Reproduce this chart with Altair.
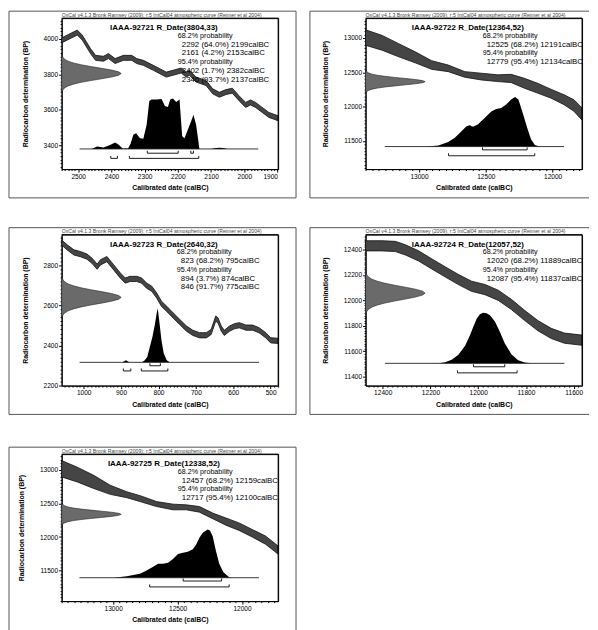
import altair as alt
import pandas as pd

W, H = 218, 152
FONT = "Liberation Sans"
HEADER = "OxCal v4.1.3 Bronk Ramsey (2009); r:5 IntCal04 atmospheric curve (Reimer et al 2004)"
XTITLE = "Calibrated date (calBC)"
YTITLE = "Radiocarbon determination (BP)"

# measured radiocarbon date profile: offsets (in sigma) and relative density
rc_z = [-3.3, -3.0, -2.7, -2.4, -2.1, -1.8, -1.5, -1.2, -0.9, -0.6, -0.3, 0.0,
        0.3, 0.6, 0.9, 1.2, 1.5, 1.8, 2.1, 2.4, 2.7, 3.0, 3.3]
rc_dens = [0.004, 0.011, 0.026, 0.056, 0.110, 0.198, 0.325, 0.487, 0.667, 0.835, 0.956, 1.0,
           0.956, 0.835, 0.667, 0.487, 0.325, 0.198, 0.110, 0.056, 0.026, 0.011, 0.004]

# ---------------- panel 1 ----------------
p1_title = "IAAA-92721 R_Date(3804,33)"
p1_rdate = [3804, 33]
p1_lines = ["68.2% probability", "2292 (64.0%) 2199calBC", "2161 (4.2%) 2153calBC",
            "95.4% probability", "2402 (1.7%) 2382calBC", "2346 (93.7%) 2137calBC"]
p1_xdom = [1898, 2550]
p1_ydom = [3268, 4115]
p1_xmajor, p1_xminor = 100, 10
p1_ymajor, p1_yminor = 200, 20
p1_curve_date = [2550, 2503, 2488, 2463, 2448, 2424, 2409, 2389, 2364, 2339, 2324, 2304, 2274, 2254,
                 2235, 2215, 2190, 2175, 2165, 2145, 2115, 2095, 2075, 2055, 2036, 2016, 1996, 1981,
                 1966, 1946, 1926, 1898]
p1_curve_bp = [3990, 4034, 4006, 3930, 3892, 3887, 3902, 3874, 3892, 3892, 3874, 3864, 3836, 3817,
               3798, 3808, 3821, 3798, 3808, 3770, 3751, 3704, 3685, 3700, 3708, 3666, 3628, 3642,
               3628, 3600, 3572, 3553]
p1_curve_err = [14, 14, 14, 14, 14, 14, 14, 14, 14, 14, 14, 14, 14, 14, 14, 14, 14, 14, 14, 14,
                14, 14, 14, 14, 14, 14, 14, 14, 14, 14, 14, 14]
p1_dist_date = [2460, 2443, 2424, 2404, 2389, 2379, 2366, 2350, 2342, 2334, 2326, 2314, 2304, 2294,
                2286, 2279, 2264, 2249, 2239, 2230, 2223, 2215, 2205, 2195, 2187, 2180, 2170, 2160,
                2153, 2145, 2135, 2100, 2085, 2075, 2065, 2050]
p1_dist_p = [0.0, 0.05, 0.03, 0.08, 0.13, 0.09, 0.01, 0.01, 0.11, 0.28, 0.31, 0.21, 0.20, 0.48,
             0.95, 0.98, 0.98, 0.99, 0.85, 0.83, 0.98, 1.0, 0.93, 0.98, 0.25, 0.21, 0.38, 0.55,
             0.68, 0.48, 0.0, 0.0, 0.02, 0.025, 0.02, 0.0]
p1_span = [2496, 1958]
p1_r68 = [[2292, 2199], [2161, 2153]]
p1_r95 = [[2402, 2382], [2346, 2137]]

# ---------------- panel 2 ----------------
p2_title = "IAAA-92722 R_Date(12364,52)"
p2_rdate = [12364, 52]
p2_lines = ["68.2% probability", "12525 (68.2%) 12191calBC",
            "95.4% probability", "12779 (95.4%) 12134calBC"]
p2_xdom = [11780, 13400]
p2_ydom = [11090, 13290]
p2_xmajor, p2_xminor = 500, 50
p2_ymajor, p2_yminor = 500, 50
p2_curve_date = [13400, 13276, 13152, 13029, 12905, 12781, 12657, 12534, 12410, 12311, 12212,
                 12113, 12014, 11915, 11841, 11780]
p2_curve_bp = [13007, 12930, 12822, 12719, 12606, 12558, 12469, 12438, 12414, 12411, 12341,
               12269, 12190, 12101, 12017, 11892]
p2_curve_err = [113, 108, 96, 80, 63, 48, 41, 49, 49, 60, 72, 72, 65, 72, 84, 89]
p2_dist_date = [12942, 12855, 12781, 12732, 12682, 12645, 12620, 12596, 12558, 12509, 12459,
                12422, 12385, 12348, 12311, 12281, 12256, 12224, 12187, 12162, 12133, 12100]
p2_dist_p = [0.0, 0.02, 0.09, 0.18, 0.31, 0.41, 0.43, 0.40, 0.45, 0.58, 0.71, 0.76, 0.78, 0.85,
             0.95, 1.0, 0.95, 0.68, 0.35, 0.15, 0.03, 0.0]
p2_span = [13256, 11915]
p2_r68 = [[12525, 12191]]
p2_r95 = [[12779, 12134]]

# ---------------- panel 3 ----------------
p3_title = "IAAA-92723 R_Date(2640,32)"
p3_rdate = [2640, 32]
p3_lines = ["68.2% probability", "823 (68.2%) 795calBC", "95.4% probability",
            "894 (3.7%) 874calBC", "846 (91.7%) 775calBC"]
p3_xdom = [480, 1059]
p3_ydom = [2200, 2953]
p3_xmajor, p3_xminor = 100, 10
p3_ymajor, p3_yminor = 200, 20
p3_curve_date = [1059, 1044, 1026, 1009, 991, 978, 964, 955, 938, 920, 902, 889, 876, 858, 845,
                 832, 818, 805, 792, 778, 761, 743, 725, 708, 690, 672, 659, 647, 641, 632, 624,
                 610, 597, 584, 566, 548, 531, 513, 500, 480]
p3_curve_bp = [2914, 2889, 2864, 2856, 2843, 2823, 2793, 2815, 2831, 2790, 2749, 2724, 2732, 2732,
               2724, 2699, 2683, 2650, 2608, 2583, 2550, 2517, 2484, 2463, 2451, 2451, 2468, 2534,
               2526, 2484, 2463, 2484, 2496, 2501, 2489, 2489, 2476, 2451, 2426, 2423]
p3_curve_err = [13, 13, 13, 13, 13, 13, 13, 13, 13, 13, 13, 13, 13, 13, 13, 13, 13, 13, 13, 13,
                13, 13, 13, 13, 13, 13, 13, 13, 13, 13, 13, 13, 13, 13, 13, 13, 13, 13, 13, 13]
p3_dist_date = [896, 887, 878, 845, 838, 830, 823, 816, 810, 805, 802, 798, 792, 786, 778, 770]
p3_dist_p = [0.0, 0.04, 0.0, 0.0, 0.03, 0.10, 0.29, 0.48, 0.69, 0.91, 1.0, 0.78, 0.41, 0.17,
             0.04, 0.0]
p3_span = [1011, 531]
p3_r68 = [[823, 795]]
p3_r95 = [[894, 874], [846, 775]]

# ---------------- panel 4 ----------------
p4_title = "IAAA-92724 R_Date(12057,52)"
p4_rdate = [12057, 52]
p4_lines = ["68.2% probability", "12020 (68.2%) 11889calBC",
            "95.4% probability", "12087 (95.4%) 11837calBC"]
p4_xdom = [11565, 12472]
p4_ydom = [11330, 12517]
p4_xmajor, p4_xminor = 200, 20
p4_ymajor, p4_yminor = 200, 20
p4_curve_date = [12472, 12403, 12347, 12305, 12250, 12194, 12139, 12083, 12028, 11972, 11916,
                 11861, 11805, 11750, 11694, 11639, 11565]
p4_curve_bp = [12429, 12429, 12424, 12397, 12350, 12286, 12225, 12164, 12111, 12085, 12040,
               11968, 11881, 11801, 11740, 11703, 11687]
p4_curve_err = [40, 40, 40, 40, 40, 40, 40, 40, 40, 40, 40, 40, 40, 40, 40, 40, 40]
p4_dist_date = [12166, 12139, 12111, 12083, 12055, 12035, 12021, 12007, 11993, 11979, 11965,
                11951, 11930, 11909, 11889, 11861, 11833, 11805, 11778]
p4_dist_p = [0.0, 0.02, 0.07, 0.17, 0.35, 0.55, 0.72, 0.88, 0.97, 1.0, 0.99, 0.95, 0.83, 0.62,
             0.40, 0.18, 0.06, 0.015, 0.0]
p4_span = [12391, 11639]
p4_r68 = [[12020, 11889]]
p4_r95 = [[12087, 11837]]

# ---------------- panel 5 ----------------
p5_title = "IAAA-92725 R_Date(12338,52)"
p5_rdate = [12338, 52]
p5_lines = ["68.2% probability", "12457 (68.2%) 12159calBC",
            "95.4% probability", "12717 (95.4%) 12100calBC"]
p5_xdom = [11720, 13400]
p5_ydom = [11046, 13234]
p5_xmajor, p5_xminor = 500, 50
p5_ymajor, p5_yminor = 500, 50
p5_curve_date = [13400, 13279, 13151, 13023, 12895, 12792, 12664, 12536, 12433, 12331, 12228,
                 12126, 12023, 11921, 11818, 11721]
p5_curve_bp = [13016, 12930, 12820, 12703, 12630, 12572, 12491, 12447, 12442, 12412, 12315,
               12230, 12154, 12056, 11954, 11807]
p5_curve_err = [122, 110, 98, 68, 44, 44, 37, 42, 37, 42, 42, 54, 56, 56, 61, 61]
p5_dist_date = [12997, 12895, 12792, 12741, 12690, 12651, 12613, 12574, 12536, 12497, 12459,
                12421, 12382, 12356, 12331, 12305, 12267, 12249, 12228, 12203, 12177, 12146,
                12100, 12074]
p5_dist_p = [0.0, 0.03, 0.08, 0.15, 0.23, 0.29, 0.29, 0.31, 0.39, 0.49, 0.52, 0.54, 0.59, 0.69,
             0.83, 0.93, 1.0, 0.98, 0.86, 0.56, 0.29, 0.12, 0.01, 0.0]
p5_span = [13262, 11869]
p5_r68 = [[12457, 12159]]
p5_r95 = [[12717, 12100]]

# ---------------- layout / style constants ----------------
GAUSS_PX = 60.0  # width of the measured-date profile in px
LAYOUT = {
    # baseline bp, peak bp, 68% bracket level, 95% bracket level, text x positions, plot height
    1: dict(base=3381, peak=3664, l68=3357, l95=3328, tx=117, rx=121, h=152),
    2: dict(base=11418, peak=12139, l68=11370, l95=11284, tx=118, rx=122, h=152),
    3: dict(base=2316, peak=2584, l68=2299, l95=2273, tx=116, rx=120, h=152),
    4: dict(base=11505, peak=11902, l68=11478, l95=11430, tx=118, rx=122, h=152),
    5: dict(base=11394, peak=12112, l68=11345, l95=11257, tx=117, rx=121, h=148),
}
ONE = alt.Data(values=[{"k": 0}])


def text_layer(s, x, y, align="left", size=7.2, weight="normal"):
    return alt.Chart(ONE).mark_text(
        text=s, align=align, baseline="middle", fontSize=size, fontWeight=weight,
        font=FONT, color="black"
    ).encode(x=alt.value(x), y=alt.value(y))


def rule_px(x, x2, y, y2, color="#555555"):
    return alt.Chart(ONE).mark_rule(color=color, strokeWidth=1).encode(
        x=alt.value(x), x2=alt.value(x2), y=alt.value(y), y2=alt.value(y2))


def ticks(lo, hi, step):
    start = int(-(-lo // step) * step)
    return list(range(start, int(hi) + 1, step))


def make_axis(lo, hi, major, minor, title):
    return alt.Axis(
        values=ticks(lo, hi, minor), format="d", title=title,
        labelExpr=f"datum.value % {major} === 0 ? datum.label : ''",
        tickSize={"condition": {"test": f"datum.value % {major} === 0", "value": 3},
                  "value": 1.5},
    )


def panel(n, title, rdate, lines, xdom, ydom, xmm, ymm, cdate, cbp, cerr,
          ddate, dp, span, r68, r95, frame):
    L = LAYOUT[n]
    h = L["h"]
    xlo, xhi = xdom
    ylo, yhi = ydom
    xs = alt.Scale(domain=[xlo, xhi], reverse=True, nice=False, zero=False)
    ys = alt.Scale(domain=[ylo, yhi], nice=False, zero=False)
    bp_per_px = (yhi - ylo) / h

    xaxis = make_axis(xlo, xhi, xmm[0], xmm[1], XTITLE)
    yaxis = make_axis(ylo, yhi, ymm[0], ymm[1], YTITLE)

    curve = pd.DataFrame({"date": cdate, "bp": cbp, "err": cerr})
    band = alt.Chart(curve).transform_calculate(
        lo="datum.bp - datum.err", hi="datum.bp + datum.err"
    ).mark_area(fill="#454545", stroke="#111111", strokeWidth=0.8).encode(
        x=alt.X("date:Q", scale=xs, axis=xaxis),
        y=alt.Y("lo:Q", scale=ys, axis=yaxis, stack=None),
        y2="hi:Q",
    )

    gdf = pd.DataFrame({"z": rc_z, "d": rc_dens})
    gauss = alt.Chart(gdf).transform_calculate(
        bp=f"{rdate[0]} + datum.z * {rdate[1]}",
        gx=f"{xhi} - datum.d * {GAUSS_PX / W * (xhi - xlo)}",
        g0=f"{xhi}",
    ).mark_area(orient="horizontal", fill="#6a6a6a", stroke="#222222", strokeWidth=0.6).encode(
        y=alt.Y("bp:Q", scale=ys, axis=yaxis),
        x=alt.X("gx:Q", scale=xs, axis=xaxis, stack=None),
        x2="g0:Q",
    )

    ddf = pd.DataFrame({"date": ddate, "p": dp})
    dist = alt.Chart(ddf).transform_calculate(
        top=f"{L['base']} + datum.p * {L['peak'] - L['base']}", b=f"{L['base']}"
    ).mark_area(color="black").encode(
        x=alt.X("date:Q", scale=xs, axis=xaxis),
        y=alt.Y("top:Q", scale=ys, axis=yaxis, stack=None),
        y2="b:Q",
    )

    sdf = pd.DataFrame({"a": [span[0]], "b": [span[1]], "bp": [L["base"]]})
    baseline = alt.Chart(sdf).mark_rule(color="#222222", strokeWidth=0.9).encode(
        x=alt.X("a:Q", scale=xs, axis=xaxis), x2="b:Q",
        y=alt.Y("bp:Q", scale=ys, axis=yaxis))

    rows = [{"s": a, "e": b, "lev": L["l68"]} for a, b in r68] + \
           [{"s": a, "e": b, "lev": L["l95"]} for a, b in r95]
    bdf = pd.DataFrame(rows)
    hbr = alt.Chart(bdf).mark_rule(color="black", strokeWidth=0.9).encode(
        x=alt.X("s:Q", scale=xs, axis=xaxis), x2="e:Q",
        y=alt.Y("lev:Q", scale=ys, axis=yaxis))
    vbr = alt.Chart(bdf).transform_fold(["s", "e"], as_=["k", "edge"]).transform_calculate(
        top=f"datum.lev + {2.5 * bp_per_px}"
    ).mark_rule(color="black", strokeWidth=0.9).encode(
        x=alt.X("edge:Q", scale=xs, axis=xaxis),
        y=alt.Y("lev:Q", scale=ys, axis=yaxis), y2="top:Q")

    layers = [band, gauss, dist, baseline, hbr, vbr]
    # plot box
    layers.append(rule_px(0, W, 0, 0, "black"))
    layers.append(rule_px(W, W, 0, h, "black"))
    layers.append(alt.Chart(ONE).mark_text(
        text=HEADER, align="left", baseline="bottom", fontSize=5.2, font=FONT, color="#444444"
    ).encode(x=alt.value(0), y=alt.value(-0.5)))
    layers.append(text_layer(title, 103, 10, align="center", size=8, weight="bold"))
    for i, s in enumerate(lines):
        heading = s.endswith("probability")
        if heading:
            layers.append(text_layer(s, L["tx"], 18 + 8.8 * i, size=7.2))
        else:
            layers.append(text_layer(s, L["rx"], 18 + 8.8 * i, size=7.9))
    left, right, top, bottom = frame
    bot = h + bottom if bottom is not None else h + 40
    layers.append(rule_px(left, right, top, top))
    layers.append(rule_px(left, left, top, bot))
    if bottom is not None:
        layers.append(rule_px(left, right, bot, bot))
    if right > W + 15:
        layers.append(rule_px(right, right, top, bot))
    return alt.layer(*layers).properties(width=W, height=h)


P1 = panel(1, p1_title, p1_rdate, p1_lines, p1_xdom, p1_ydom, (p1_xmajor, p1_xminor),
           (p1_ymajor, p1_yminor), p1_curve_date, p1_curve_bp, p1_curve_err, p1_dist_date,
           p1_dist_p, p1_span, p1_r68, p1_r95, (-53, 236, -7, 29))
P2 = panel(2, p2_title, p2_rdate, p2_lines, p2_xdom, p2_ydom, (p2_xmajor, p2_xminor),
           (p2_ymajor, p2_yminor), p2_curve_date, p2_curve_bp, p2_curve_err, p2_dist_date,
           p2_dist_p, p2_span, p2_r68, p2_r95, (-56, 225, -7, 29))
P3 = panel(3, p3_title, p3_rdate, p3_lines, p3_xdom, p3_ydom, (p3_xmajor, p3_xminor),
           (p3_ymajor, p3_yminor), p3_curve_date, p3_curve_bp, p3_curve_err, p3_dist_date,
           p3_dist_p, p3_span, p3_r68, p3_r95, (-53, 236, -7, 29))
P4 = panel(4, p4_title, p4_rdate, p4_lines, p4_xdom, p4_ydom, (p4_xmajor, p4_xminor),
           (p4_ymajor, p4_yminor), p4_curve_date, p4_curve_bp, p4_curve_err, p4_dist_date,
           p4_dist_p, p4_span, p4_r68, p4_r95, (-56, 225, -7, 29))
P5 = panel(5, p5_title, p5_rdate, p5_lines, p5_xdom, p5_ydom, (p5_xmajor, p5_xminor),
           (p5_ymajor, p5_yminor), p5_curve_date, p5_curve_bp, p5_curve_err, p5_dist_date,
           p5_dist_p, p5_span, p5_r68, p5_r95, (-53, 236, -7, None))

top_rows = alt.vconcat(
    alt.hconcat(P1, P2, spacing=12),
    alt.hconcat(P3, P4, spacing=12),
    spacing=28,
)
chart = alt.vconcat(top_rows, P5, spacing=31).properties(padding=0).configure_view(
    stroke="black", strokeWidth=1
).configure_axis(
    grid=False, domainColor="black", domainWidth=1, tickColor="black",
    labelFont=FONT, labelFontSize=6.6, labelColor="black", labelPadding=1,
    titleFont=FONT, titleFontSize=7, titleFontWeight="bold", titleColor="black",
).configure_axisX(titlePadding=4).configure_axisY(titlePadding=15)

chart.save("out.html", embed_options={"renderer": "svg", "actions": False})
